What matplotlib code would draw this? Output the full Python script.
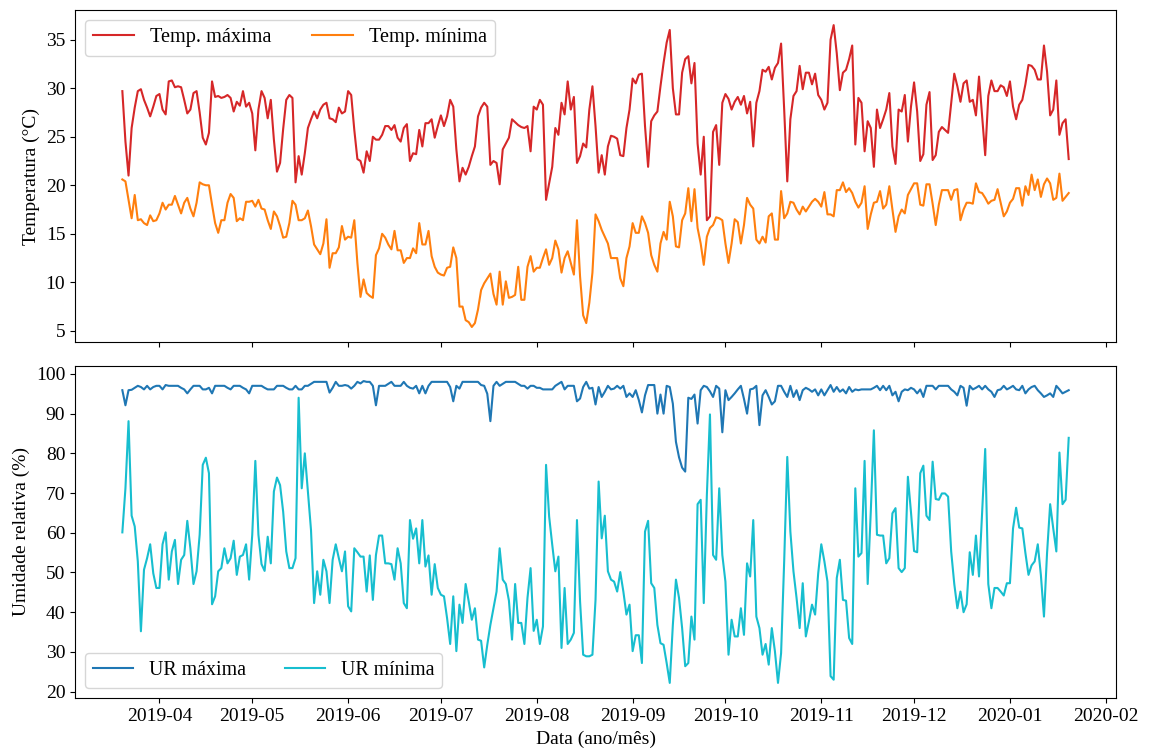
import numpy as np
import pandas as pd
import matplotlib
matplotlib.use("Agg")
import matplotlib.pyplot as plt
import matplotlib.dates as mdates
from matplotlib.ticker import MultipleLocator

plt.rcParams['font.family'] = ['Liberation Serif', 'DejaVu Serif']
plt.rcParams['font.size'] = 14

# daily series, 2019-03-20 .. 2020-01-20
start_date = "2019-03-20"

temp_max = [
    29.7, 24.5, 21.0, 25.9, 28.0, 29.7, 29.9, 28.8, 28.0, 27.1,
    28.1, 29.2, 29.4, 27.8, 27.3, 30.7, 30.8, 30.1, 30.2, 30.1,
    28.8, 27.4, 27.8, 29.5, 29.7, 27.5, 24.9, 24.2, 25.4, 30.7,
    29.1, 29.2, 29.0, 29.1, 29.3, 29.0, 27.6, 28.6, 28.2, 29.7,
    28.1, 28.5, 27.4, 23.6, 27.8, 29.7, 29.0, 26.9, 28.8, 24.7,
    21.4, 22.3, 25.8, 28.8, 29.3, 29.0, 20.3, 23.0, 21.1, 23.3,
    25.9, 26.8, 27.6, 26.9, 27.8, 28.3, 28.5, 26.9, 26.8, 26.5,
    28.0, 27.4, 27.6, 29.7, 29.3, 25.7, 22.7, 22.5, 21.3, 23.5,
    22.5, 25.0, 24.7, 24.7, 25.2, 26.1, 26.1, 25.7, 26.2, 24.9,
    24.5, 25.9, 26.3, 22.5, 23.3, 23.2, 25.7, 24.0, 26.4, 26.4,
    26.8, 24.9, 26.1, 27.2, 26.1, 27.1, 28.8, 28.1, 23.7, 20.4,
    21.8, 21.1, 21.9, 23.0, 24.0, 27.1, 28.0, 28.5, 28.1, 22.1,
    22.5, 22.3, 20.1, 23.7, 24.3, 24.9, 26.8, 26.5, 26.2, 26.0,
    25.9, 26.1, 23.5, 28.1, 27.8, 28.8, 28.3, 18.5, 20.2, 21.9,
    25.9, 25.2, 28.5, 27.3, 30.7, 27.8, 29.1, 22.3, 23.0, 24.3,
    23.9, 27.8, 30.2, 26.1, 21.3, 23.1, 21.1, 24.0, 25.1, 25.0,
    24.8, 23.1, 23.0, 25.9, 27.8, 31.0, 30.5, 31.4, 31.5, 26.1,
    21.9, 26.6, 27.2, 27.6, 30.2, 32.6, 34.7, 36.0, 30.0, 27.3,
    27.3, 31.6, 33.0, 33.3, 30.5, 32.6, 24.3, 21.1, 25.0, 16.4,
    16.8, 25.5, 26.2, 22.1, 28.5, 29.4, 28.9, 27.8, 28.6, 29.1,
    28.3, 29.2, 27.4, 28.6, 24.0, 28.5, 29.7, 31.9, 31.7, 32.2,
    30.9, 32.1, 32.6, 34.6, 27.8, 20.4, 26.8, 29.2, 29.7, 32.3,
    29.9, 31.6, 31.6, 30.4, 31.5, 29.3, 28.8, 27.8, 28.5, 35.0,
    36.5, 33.6, 29.8, 31.6, 31.9, 33.0, 34.4, 24.2, 29.0, 28.5,
    23.5, 26.6, 25.9, 21.9, 27.8, 25.9, 26.8, 27.8, 29.5, 24.0,
    22.2, 27.8, 27.6, 29.3, 24.5, 28.1, 30.6, 27.6, 22.5, 23.2,
    28.3, 29.6, 22.6, 23.1, 25.5, 26.0, 25.7, 25.4, 28.5, 31.5,
    30.2, 28.6, 30.5, 30.8, 28.6, 28.8, 27.2, 31.2, 27.1, 23.1,
    29.2, 30.8, 29.7, 29.7, 30.3, 30.1, 29.2, 30.7, 28.1, 26.8,
    28.3, 28.8, 30.4, 32.4, 32.3, 31.9, 30.9, 30.9, 34.4, 31.7,
    27.2, 27.8, 30.8, 25.2, 26.4, 26.8, 22.7,
]

temp_min = [
    20.6, 20.4, 18.5, 16.6, 19.0, 16.4, 16.5, 16.1, 15.9, 16.9,
    16.3, 16.4, 17.1, 18.2, 17.5, 18.0, 18.0, 18.9, 18.0, 17.1,
    18.2, 18.7, 17.6, 16.8, 18.2, 20.3, 20.1, 20.0, 20.0, 18.0,
    16.1, 15.1, 16.4, 16.4, 18.2, 19.1, 18.7, 16.3, 16.6, 16.4,
    18.3, 18.3, 18.4, 17.8, 18.5, 17.6, 17.5, 16.4, 15.5, 17.3,
    16.8, 15.8, 14.6, 14.7, 16.1, 18.4, 18.0, 16.4, 16.4, 16.6,
    17.4, 15.8, 13.9, 13.4, 12.9, 14.0, 16.5, 11.5, 13.0, 13.0,
    13.6, 15.8, 14.4, 14.7, 14.6, 16.4, 12.0, 8.5, 10.3, 8.9,
    8.6, 8.4, 12.8, 13.5, 15.0, 14.6, 13.9, 13.4, 15.3, 13.3,
    13.3, 12.0, 12.5, 12.5, 13.5, 13.0, 16.1, 13.9, 13.9, 15.3,
    12.7, 11.6, 11.0, 10.8, 10.7, 11.5, 11.6, 13.6, 12.5, 7.5,
    7.5, 6.1, 5.9, 5.4, 5.8, 7.2, 9.2, 9.9, 10.4, 10.9,
    8.8, 7.7, 11.1, 7.7, 10.1, 8.4, 8.5, 8.7, 11.6, 8.2,
    8.2, 11.6, 12.7, 11.1, 11.5, 11.5, 12.5, 13.4, 11.8, 12.5,
    14.3, 13.4, 11.0, 12.5, 13.2, 12.0, 10.8, 16.4, 10.6, 6.6,
    5.8, 7.9, 11.0, 17.0, 16.3, 15.4, 14.7, 14.0, 12.5, 12.5,
    12.5, 10.4, 9.6, 12.5, 13.7, 16.1, 15.1, 15.1, 16.8, 16.1,
    15.1, 12.8, 11.8, 11.1, 14.0, 15.2, 14.4, 18.3, 16.8, 13.7,
    13.6, 16.4, 17.1, 19.7, 16.3, 19.6, 15.6, 14.0, 11.8, 14.7,
    15.6, 15.9, 16.7, 16.6, 16.4, 14.0, 12.0, 14.0, 16.5, 16.2,
    14.0, 15.9, 18.7, 18.0, 17.6, 14.4, 14.0, 14.7, 14.1, 16.8,
    17.1, 14.4, 14.4, 19.4, 16.6, 17.1, 18.3, 18.2, 17.5, 17.0,
    17.8, 17.3, 17.8, 18.3, 18.6, 18.3, 17.8, 19.3, 17.0, 17.0,
    16.8, 19.5, 19.5, 20.3, 19.3, 19.7, 19.2, 18.3, 17.7, 18.2,
    19.9, 15.5, 17.0, 18.2, 18.3, 19.4, 17.6, 18.0, 19.9, 17.5,
    15.2, 16.8, 17.5, 17.1, 19.0, 19.6, 20.2, 20.2, 18.0, 17.9,
    20.1, 20.1, 18.1, 15.9, 18.0, 19.5, 19.5, 19.5, 18.5, 19.5,
    19.6, 16.4, 17.5, 18.2, 18.2, 18.1, 20.2, 19.3, 19.2, 18.7,
    18.1, 18.4, 18.5, 19.6, 18.2, 16.8, 17.3, 18.2, 18.6, 19.7,
    19.7, 17.9, 19.9, 19.0, 21.1, 19.5, 20.6, 18.8, 20.1, 20.7,
    20.2, 18.5, 18.7, 21.2, 18.4, 18.8, 19.2,
]

ur_max = [
    95.9, 92.1, 95.9, 96.0, 96.5, 97.0, 96.7, 96.1, 97.0, 96.1,
    96.7, 97.0, 97.0, 96.1, 97.2, 97.0, 97.0, 97.0, 97.0, 96.5,
    96.1, 95.1, 96.1, 97.0, 97.0, 97.0, 96.1, 96.1, 96.5, 95.1,
    97.0, 97.0, 97.0, 97.0, 96.5, 96.1, 97.0, 97.0, 97.0, 96.5,
    96.1, 95.1, 97.0, 97.0, 97.0, 97.0, 96.5, 96.1, 96.1, 96.1,
    97.0, 97.0, 97.0, 96.5, 96.1, 96.1, 97.0, 96.1, 96.1, 97.0,
    97.0, 97.5, 98.0, 98.0, 98.0, 98.0, 98.0, 95.3, 96.5, 98.0,
    97.0, 97.0, 97.2, 97.0, 96.3, 97.0, 98.0, 97.6, 98.2, 98.0,
    98.0, 97.0, 92.1, 97.0, 97.0, 97.0, 97.5, 98.0, 97.0, 97.0,
    97.0, 98.0, 97.0, 96.5, 96.3, 97.0, 95.1, 97.0, 95.1, 97.0,
    98.0, 98.0, 98.0, 98.0, 98.0, 98.0, 96.7, 93.1, 97.0, 96.3,
    98.0, 98.0, 98.0, 98.0, 98.0, 98.0, 97.2, 97.0, 95.0, 88.1,
    97.0, 98.0, 97.0, 97.5, 98.0, 98.0, 98.0, 98.0, 97.5, 97.0,
    97.0, 96.3, 97.0, 97.0, 96.5, 96.5, 96.1, 96.1, 96.1, 96.1,
    97.0, 97.5, 98.0, 96.1, 97.0, 97.0, 97.0, 93.1, 93.8, 96.7,
    98.0, 96.3, 96.5, 92.3, 96.7, 94.2, 95.5, 97.0, 96.1, 96.3,
    97.0, 96.3, 97.0, 94.2, 95.1, 94.2, 95.9, 93.4, 90.3, 94.6,
    97.2, 97.2, 97.2, 90.0, 94.8, 90.0, 97.0, 96.7, 92.5, 82.9,
    79.0, 76.4, 75.4, 94.0, 93.7, 94.8, 87.5, 95.9, 97.0, 96.7,
    95.6, 94.2, 97.0, 96.3, 85.3, 95.9, 93.4, 94.2, 95.1, 96.1,
    97.0, 93.7, 90.0, 96.1, 96.3, 97.0, 87.1, 94.6, 95.9, 94.2,
    92.3, 93.1, 97.0, 97.0, 95.5, 94.2, 97.0, 94.2, 95.9, 93.4,
    95.9, 96.5, 96.1, 95.5, 96.1, 94.6, 96.1, 94.6, 95.9, 97.2,
    95.5, 96.7, 95.5, 96.1, 95.1, 96.7, 95.5, 96.1, 95.9, 96.1,
    96.1, 96.1, 96.1, 96.5, 97.0, 95.9, 97.0, 95.9, 97.0, 94.6,
    95.5, 93.1, 95.5, 96.1, 95.9, 96.5, 96.1, 95.1, 96.1, 94.2,
    97.0, 97.0, 97.0, 96.1, 97.0, 97.0, 97.0, 97.0, 96.1, 95.5,
    94.6, 97.0, 96.5, 92.0, 97.0, 96.1, 96.5, 97.0, 96.1, 97.0,
    96.1, 95.5, 94.2, 95.9, 96.1, 97.0, 96.1, 96.5, 97.0, 96.1,
    95.9, 97.0, 95.1, 96.1, 96.7, 97.0, 95.9, 95.1, 94.2, 94.6,
    95.1, 94.2, 97.0, 96.1, 95.1, 95.5, 95.9,
]

ur_min = [
    60.1, 71.2, 88.1, 64.3, 61.6, 52.8, 35.2, 50.7, 53.6, 57.1,
    49.8, 46.1, 46.1, 57.1, 60.1, 48.2, 55.3, 58.2, 47.1, 53.2,
    54.4, 63.0, 56.1, 47.1, 50.3, 59.5, 77.1, 78.9, 75.0, 42.0,
    44.0, 50.3, 51.1, 56.1, 52.3, 53.6, 58.0, 49.4, 54.0, 54.4,
    57.1, 48.2, 59.5, 78.1, 59.5, 52.1, 50.4, 59.0, 52.3, 70.4,
    73.9, 72.0, 65.3, 55.3, 51.1, 51.1, 53.6, 94.0, 71.2, 80.0,
    70.4, 60.7, 42.3, 50.3, 44.4, 53.2, 50.3, 42.3, 53.2, 57.1,
    53.6, 50.3, 55.3, 41.5, 40.2, 56.1, 55.1, 54.0, 54.0, 45.2,
    54.3, 43.1, 54.4, 59.3, 59.3, 52.3, 52.3, 52.1, 48.2, 56.1,
    52.3, 42.3, 41.0, 63.2, 58.5, 61.1, 52.3, 63.2, 51.5, 54.3,
    44.4, 52.1, 46.1, 44.4, 44.0, 38.5, 32.0, 44.0, 30.2, 41.9,
    37.3, 47.1, 42.7, 38.1, 41.0, 33.1, 32.8, 26.1, 31.8, 36.8,
    41.0, 45.2, 56.1, 48.2, 47.1, 42.9, 33.1, 47.1, 37.3, 37.3,
    32.0, 43.6, 51.1, 35.3, 38.1, 32.0, 36.4, 77.1, 64.1, 57.0,
    50.3, 54.0, 31.0, 46.1, 32.0, 33.1, 34.8, 63.2, 42.7, 29.3,
    28.9, 28.9, 29.3, 43.1, 72.9, 58.6, 64.3, 50.3, 48.2, 47.7,
    45.2, 50.1, 45.2, 39.4, 41.9, 30.2, 34.2, 34.2, 27.2, 60.3,
    63.0, 47.3, 46.1, 36.8, 32.2, 31.8, 27.2, 22.2, 36.8, 48.2,
    43.6, 36.0, 26.4, 27.2, 38.9, 33.1, 67.2, 68.3, 42.3, 69.5,
    89.8, 54.4, 53.2, 71.2, 54.4, 47.7, 29.3, 38.1, 33.9, 33.9,
    41.0, 34.3, 52.3, 49.0, 63.2, 38.9, 36.0, 29.3, 32.0, 26.8,
    36.0, 30.2, 22.2, 29.7, 52.8, 79.1, 60.3, 50.3, 43.6, 36.0,
    47.3, 33.9, 37.7, 41.9, 39.4, 49.8, 57.1, 52.8, 47.7, 23.9,
    23.0, 48.6, 53.2, 43.1, 42.9, 33.5, 32.0, 71.2, 54.0, 54.9,
    78.1, 47.1, 65.3, 85.8, 59.5, 59.3, 59.3, 52.3, 53.6, 64.9,
    66.2, 51.1, 50.1, 51.1, 74.1, 65.2, 55.4, 55.1, 75.0, 76.9,
    64.3, 63.2, 77.9, 68.5, 68.3, 69.9, 69.9, 69.1, 55.3, 47.1,
    41.0, 45.2, 40.0, 42.0, 55.1, 49.4, 59.3, 49.0, 64.9, 81.1,
    47.1, 41.0, 46.1, 46.1, 45.2, 44.2, 47.3, 47.3, 61.1, 66.3,
    61.3, 61.1, 54.9, 49.4, 51.8, 52.8, 57.1, 49.4, 38.9, 54.9,
    67.2, 61.1, 55.3, 80.2, 67.2, 68.3, 83.9,
]

dates = pd.date_range(start_date, periods=len(temp_max), freq="D")

fig, (ax1, ax2) = plt.subplots(2, 1, figsize=(11.49, 7.49), dpi=100, sharex=True)
fig.subplots_adjust(left=0.0653, right=0.9713, top=0.9866, bottom=0.0681, hspace=0.072)

ax1.plot(dates, temp_max, color="tab:red", lw=1.5, label="Temp. máxima")
ax1.plot(dates, temp_min, color="tab:orange", lw=1.5, label="Temp. mínima")
ax1.set_ylabel("Temperatura (°C)")
ax1.legend(loc="upper left", ncol=2, fontsize=14.6)

ax2.plot(dates, ur_max, color="tab:blue", lw=1.5, label="UR máxima")
ax2.plot(dates, ur_min, color="tab:cyan", lw=1.5, label="UR mínima")
ax2.set_ylabel("Umidade relativa (%)")
ax2.set_xlabel("Data (ano/mês)")
ax2.yaxis.set_major_locator(MultipleLocator(10))
ax2.legend(loc="lower left", ncol=2, fontsize=14.3)

ax2.xaxis.set_major_locator(mdates.MonthLocator())
ax2.xaxis.set_major_formatter(mdates.DateFormatter("%Y-%m"))

fig.savefig("out.png", dpi=100)
